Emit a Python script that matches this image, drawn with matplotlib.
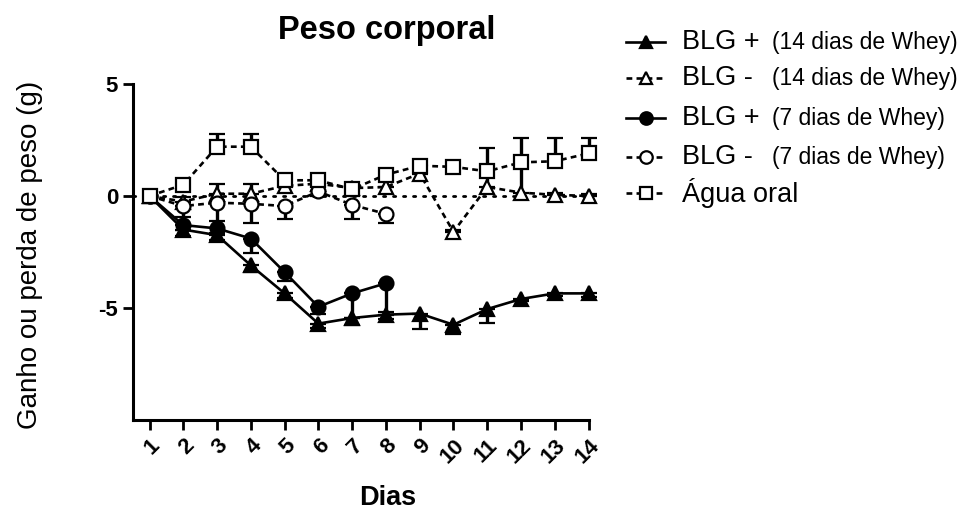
import numpy as np
import matplotlib
matplotlib.use("Agg")
import matplotlib.pyplot as plt
from matplotlib.lines import Line2D

plt.rcParams["font.family"] = ["Liberation Sans", "DejaVu Sans"]
plt.rcParams["axes.unicode_minus"] = False

# dados (media e erro)
dias = list(range(1, 15))
dias7 = list(range(1, 9))
y_ticks = [5, 0, -5]

blg_pos14 = [0, -1.5, -1.75, -3.1, -4.35, -5.7, -5.45, -5.3, -5.25, -5.75, -5.05, -4.6, -4.35, -4.35]
blg_pos14_err = [0, 0.3, 0.2, 0.3, 0.2, 0.2, 0.3, 0.2, 0.7, 0.4, 0.6, 0.1, 0.1, 0.15]   # para baixo

blg_neg14 = [0, -0.25, 0.1, 0.1, 0.45, 0.55, 0.35, 0.4, 1.0, -1.6, 0.4, 0.15, 0.05, 0.0]
blg_neg14_err = [0, 0.2, 0.45, 0.45, 0.3, 0.25, 0.2, 0.3, 0.3, 0.1, 1.75, 2.45, 0.1, 0.1]  # para cima

blg_pos7 = [0, -1.3, -1.45, -1.9, -3.4, -4.95, -4.35, -3.9]
blg_pos7_err = [0, 0.2, 0.2, 0.65, 0.4, 0.3, 1.1, 1.3]     # para baixo

blg_neg7 = [0, -0.45, -0.3, -0.35, -0.45, 0.2, -0.4, -0.8]
blg_neg7_err = [0, 0.5, 0.8, 0.85, 0.6, 0.2, 0.65, 0.4]    # para baixo

agua = [0, 0.5, 2.2, 2.2, 0.7, 0.7, 0.3, 0.95, 1.35, 1.3, 1.1, 1.5, 1.55, 1.9]
agua_err = [0, 0.15, 0.55, 0.55, 0.2, 0.15, 0.15, 0.2, 0.15, 0.1, 0.2, 0.2, 1.05, 0.7]  # para cima

nomes = ["BLG +", "BLG -", "BLG +", "BLG -", "Água oral"]
obs = ["(14 dias de Whey)", "(14 dias de Whey)", "(7 dias de Whey)", "(7 dias de Whey)", ""]

DASH = (0, (2.2, 1.6))
LW = 1.9

fig = plt.figure(figsize=(9.68, 5.09), dpi=100)
ax = fig.add_axes([0.137, 0.175, 0.471, 0.66])

ax.axhline(0, color="black", lw=2, ls=(0, (0.8, 2.8)), dash_capstyle="round", zorder=1)

def serie(x, y, err, para_cima, marker, face, ls):
    z = np.zeros(len(err))
    yerr = [z, err] if para_cima else [err, z]
    ax.errorbar(x, y, yerr=yerr, color="black", lw=LW, ls=ls, marker=marker,
                markersize=10, mfc=face, mec="black", mew=1.6,
                elinewidth=2.4, capsize=5.5, capthick=2.6, clip_on=False, zorder=3)

serie(dias, blg_pos14, blg_pos14_err, False, "^", "black", "-")
serie(dias, blg_neg14, blg_neg14_err, True, "^", "white", DASH)
serie(dias7, blg_pos7, blg_pos7_err, False, "o", "black", "-")
serie(dias7, blg_neg7, blg_neg7_err, False, "o", "white", DASH)
serie(dias, agua, agua_err, True, "s", "white", DASH)

ax.set_xlim(0.5, 14)
ax.set_ylim(-10, 5)
ax.set_yticks(y_ticks)
ax.set_yticklabels([str(v) for v in y_ticks], fontsize=16, fontweight="bold")
ax.set_xticks(dias)
ax.set_xticklabels([str(d) for d in dias], rotation=45, ha="right", rotation_mode="anchor",
                   fontsize=16, fontweight="bold")
ax.tick_params(axis="both", direction="out", width=2, length=7)
ax.tick_params(axis="x", pad=4)
for s in ["top", "right"]:
    ax.spines[s].set_visible(False)
for s in ["left", "bottom"]:
    ax.spines[s].set_linewidth(2.2)

fig.text(0.399, 0.94, "Peso corporal", fontsize=23.5, fontweight="bold", ha="center", va="center")
fig.text(0.40, 0.022, "Dias", fontsize=19.5, fontweight="bold", ha="center", va="center")
fig.text(0.031, 0.50, "Ganho ou perda de peso (g)", fontsize=20, rotation=90,
         ha="center", va="center")

# legenda feita a mao
estilos = [("^", "black", "-"), ("^", "white", DASH), ("o", "black", "-"),
           ("o", "white", DASH), ("s", "white", DASH)]
ys = [0.917, 0.846, 0.768, 0.691, 0.620]
for (mk, fc, ls), yy, nome, o in zip(estilos, ys, nomes, obs):
    fig.add_artist(Line2D([0.647, 0.687], [yy, yy], transform=fig.transFigure, color="black",
                          lw=LW, ls=ls))
    fig.add_artist(Line2D([0.667], [yy], transform=fig.transFigure, marker=mk, markersize=9,
                          mfc=fc, mec="black", mew=1.6, ls="none"))
    fig.text(0.705, yy, nome, fontsize=19.5, va="center", ha="left")
    if o:
        fig.text(0.798, yy, o, fontsize=16.5, va="center", ha="left")

fig.savefig("out.png", dpi=100)
